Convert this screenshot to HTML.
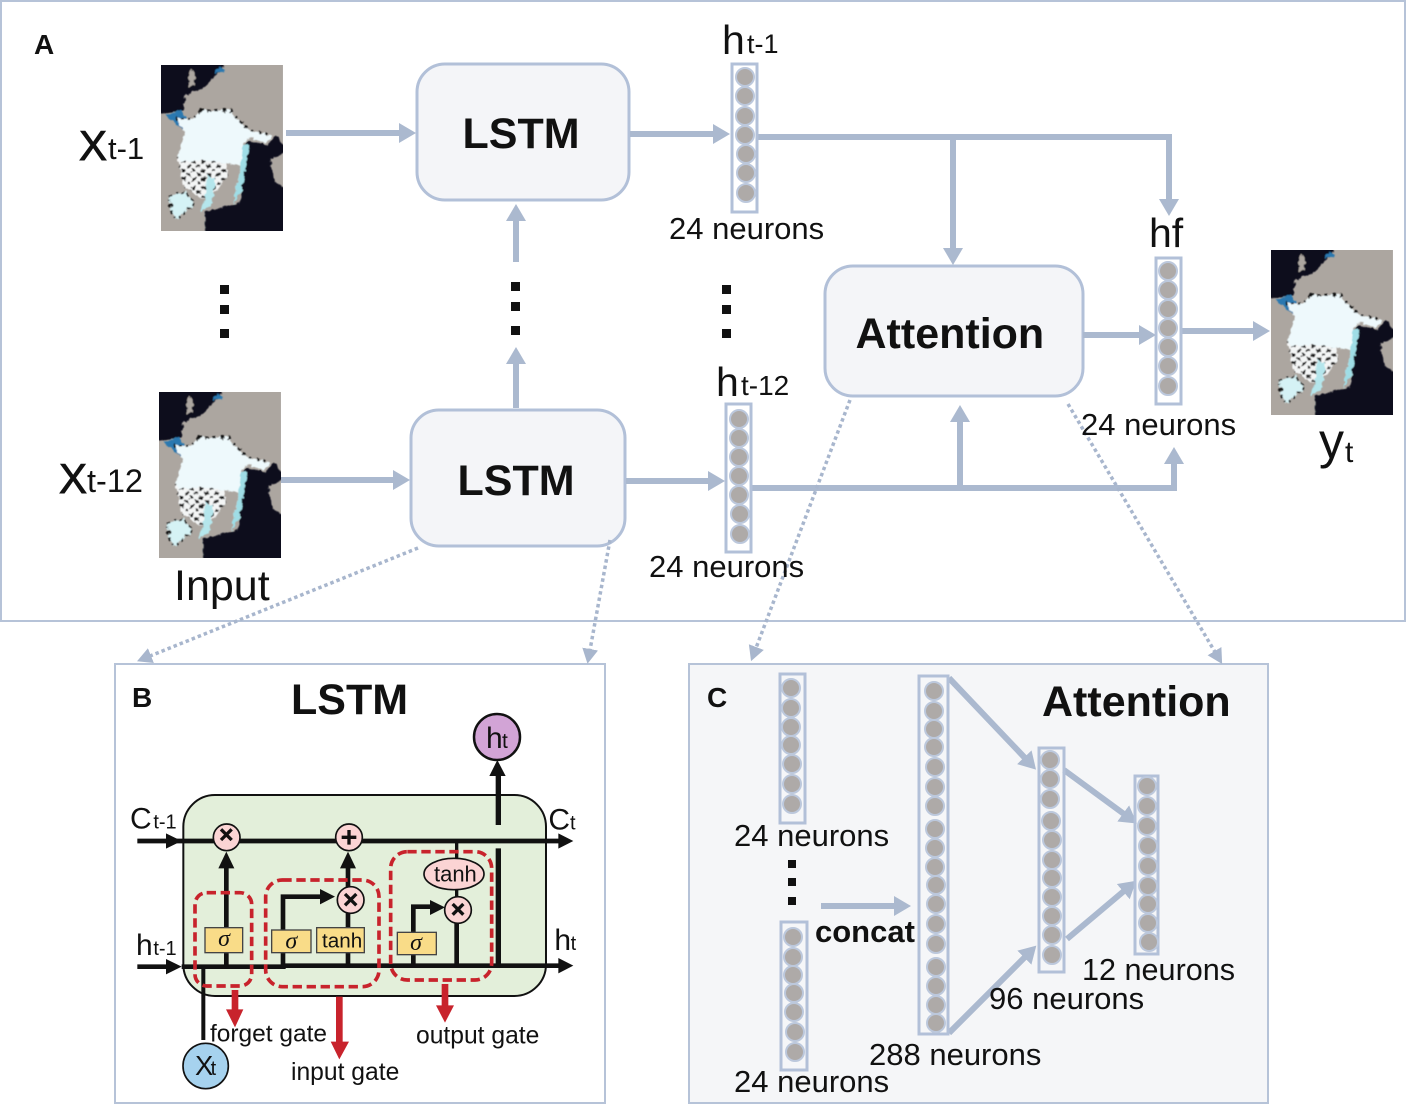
<!DOCTYPE html>
<html><head><meta charset="utf-8"><style>
html,body{margin:0;padding:0;background:#fff}
svg{display:block}
text{font-family:"Liberation Sans",sans-serif;fill:#111}
</style></head><body>
<svg width="1406" height="1105" viewBox="0 0 1406 1105" xmlns="http://www.w3.org/2000/svg">
<defs>
<marker id="a" markerUnits="userSpaceOnUse" markerWidth="20" markerHeight="22" refX="1" refY="10" orient="auto"><path d="M0,0L17,10L0,20z" fill="#abb9cf"/></marker>
<marker id="d" markerUnits="userSpaceOnUse" markerWidth="20" markerHeight="20" refX="1" refY="8" orient="auto"><path d="M0,0L15,8L0,16z" fill="#a8b6cd"/></marker>
<filter id="bl" x="-5%" y="-5%" width="110%" height="110%">
<feTurbulence type="fractalNoise" baseFrequency="0.07" numOctaves="2" seed="4" result="n"/>
<feDisplacementMap in="SourceGraphic" in2="n" scale="16" xChannelSelector="R" yChannelSelector="G"/>
<feGaussianBlur stdDeviation="1.8"/>
</filter>
<pattern id="sp" width="30" height="26" patternUnits="userSpaceOnUse"><rect width="30" height="26" fill="#f4f6f6"/><rect x="1" y="2" width="13" height="8" fill="#111"/><rect x="17" y="14" width="11" height="9" fill="#222"/></pattern>
<clipPath id="mc"><rect width="364" height="500"/></clipPath>
<g id="map" clip-path="url(#mc)">
<rect width="364" height="500" fill="#aca6a0"/>
<g filter="url(#bl)">
<path d="M-20,-20L190,-20L185,12L122,72L72,92L67,137L-20,152z" fill="#0c0d1e"/>
<path d="M90,10L102,30L100,60L85,65L80,40z" fill="#aca6a0"/>
<path d="M132,442L207,422L237,412L252,292L257,232L297,237L317,242L342,212L380,262L327,282L337,352L380,372L380,520L132,520z" fill="#0c0d1e"/>
<path d="M15,152L62,135L85,185L60,190z" fill="#2a78b0"/>
<path d="M172,4L190,14L160,30z" fill="#2a78b0"/>
<path d="M50,280L190,280L200,330L170,375L125,405L70,370z" fill="url(#sp)"/>
<path d="M25,395L75,382L100,420L45,465L30,440z" fill="#d5f2f5"/>
<path d="M137,332L162,342L152,422L117,442L132,402z" fill="#b5e6ec"/>
<path d="M117,137L207,137L237,172L267,197L332,212L312,237L267,217L247,237L252,292L237,372L217,417L237,302L187,297L132,287L57,292L52,272L72,202L42,162L97,162z" fill="#eef9fc"/>
<path d="M247,237L262,240L255,300L240,380L217,417L237,302z" fill="#9fdde6"/>
<path d="M117,137L207,137L237,172L267,197L332,212" fill="none" stroke="#111" stroke-width="8" stroke-dasharray="9 13"/>
<path d="M42,162L97,162L117,137" fill="none" stroke="#111" stroke-width="7" stroke-dasharray="8 12"/>
<path d="M25,395L75,382L100,420L45,465L30,440z" fill="none" stroke="#111" stroke-width="6" stroke-dasharray="7 12"/>
</g>
</g>
</defs>

<rect x="1" y="1" width="1404" height="620" fill="#fff" stroke="#b6c3d8" stroke-width="2"/>
<rect x="115" y="664" width="490" height="439" fill="#fff" stroke="#b6c3d8" stroke-width="2"/>
<rect x="689" y="664" width="579" height="439" fill="#f5f6f8" stroke="#b6c3d8" stroke-width="2"/>

<!-- maps -->
<use href="#map" transform="translate(161,65) scale(.335,.332)"/>
<use href="#map" transform="translate(159,392) scale(.335,.332)"/>
<use href="#map" transform="translate(1271,250) scale(.335,.33)"/>

<!-- main boxes -->
<g fill="#f4f5f8" stroke="#b2c0d8" stroke-width="3">
<rect x="417" y="64" width="212" height="136" rx="28"/>
<rect x="411" y="410" width="214" height="136" rx="28"/>
<rect x="825" y="266" width="258" height="130" rx="28"/>
</g>
<g font-weight="bold" font-size="43">
<text x="462.5" y="148">LSTM</text>
<text x="457.5" y="495">LSTM</text>
<text x="855.5" y="348">Attention</text>
<text x="291" y="714">LSTM</text>
<text x="1042" y="716">Attention</text>
</g>
<g font-weight="bold" font-size="28">
<text x="34" y="54">A</text>
<text x="132" y="707">B</text>
<text x="707" y="707">C</text>
</g>

<!-- connectors -->
<g fill="none" stroke="#abb9cf" stroke-width="6">
<path d="M286,133H400" marker-end="url(#a)"/>
<path d="M630,134H714" marker-end="url(#a)"/>
<path d="M757,137H1169V200" marker-end="url(#a)"/>
<path d="M953,137V249" marker-end="url(#a)"/>
<path d="M516,408V363" marker-end="url(#a)"/>
<path d="M516,262V220" marker-end="url(#a)"/>
<path d="M281,480H394" marker-end="url(#a)"/>
<path d="M626,481H709" marker-end="url(#a)"/>
<path d="M752,488H1174V463" marker-end="url(#a)"/>
<path d="M960,488V421" marker-end="url(#a)"/>
<path d="M1083,335H1140" marker-end="url(#a)"/>
<path d="M1182,331H1254" marker-end="url(#a)"/>
<path d="M821,906H895" marker-end="url(#a)"/>
<path d="M949,678L1025,758" marker-end="url(#a)"/>
<path d="M949,1033L1025,957" marker-end="url(#a)"/>
<path d="M1064,770L1124,814" marker-end="url(#a)"/>
<path d="M1067,939L1124,891" marker-end="url(#a)"/>
</g>
<g fill="none" stroke="#a8b6cd" stroke-width="3.5" stroke-dasharray="3.5 3">
<path d="M418,548L150,656" marker-end="url(#d)"/>
<path d="M610,540L590,650" marker-end="url(#d)"/>
<path d="M850,400L756,648" marker-end="url(#d)"/>
<path d="M1068,404L1215,652" marker-end="url(#d)"/>
</g>

<!-- dots -->
<g fill="#111">
<rect x="220" y="285" width="9" height="9"/><rect x="220" y="305" width="9" height="9"/><rect x="220" y="329" width="9" height="9"/>
<rect x="511" y="282" width="9" height="9"/><rect x="511" y="302" width="9" height="9"/><rect x="511" y="326" width="9" height="9"/>
<rect x="722" y="285" width="9" height="9"/><rect x="722" y="305" width="9" height="9"/><rect x="722" y="329" width="9" height="9"/>
<rect x="788" y="860" width="8" height="8"/><rect x="788" y="878" width="8" height="8"/><rect x="788" y="897" width="8" height="8"/>
</g>

<!-- neuron columns -->
<g fill="none" stroke="#b2c0d8" stroke-width="3">
<rect x="732" y="64" width="25" height="148"/>
<rect x="726" y="404" width="25" height="148"/>
<rect x="1156" y="258" width="25" height="146"/>
<rect x="780" y="674" width="25" height="149"/>
<rect x="781" y="922" width="26" height="148"/>
<rect x="919" y="676" width="29" height="358"/>
<rect x="1039" y="748" width="25" height="224"/>
<rect x="1135" y="776" width="23" height="178"/>
</g>
<g fill="#aeaaa8" stroke="#bcc8dc" stroke-width="2">
<circle cx="745" cy="77" r="9"/><circle cx="745" cy="96" r="9"/><circle cx="745" cy="116" r="9"/><circle cx="745" cy="135" r="9"/><circle cx="746" cy="154" r="9"/><circle cx="746" cy="173" r="9"/><circle cx="746" cy="193" r="9"/>
<circle cx="739" cy="419" r="9"/><circle cx="739" cy="438" r="9"/><circle cx="739" cy="457" r="9"/><circle cx="739" cy="476" r="9"/><circle cx="739" cy="495" r="9"/><circle cx="740" cy="514" r="9"/><circle cx="740" cy="534" r="9"/>
<circle cx="1168" cy="271" r="9"/><circle cx="1168" cy="290" r="9"/><circle cx="1168" cy="309" r="9"/><circle cx="1168" cy="328" r="9"/><circle cx="1168" cy="347" r="9"/><circle cx="1168" cy="366" r="9"/><circle cx="1168" cy="386" r="9"/>
<circle cx="791" cy="688" r="9"/><circle cx="791" cy="708" r="9"/><circle cx="791" cy="727" r="9"/><circle cx="791" cy="745" r="9"/><circle cx="792" cy="764" r="9"/><circle cx="792" cy="784" r="9"/><circle cx="792" cy="804" r="9"/>
<circle cx="793" cy="937" r="9"/><circle cx="793" cy="957" r="9"/><circle cx="793" cy="975" r="9"/><circle cx="794" cy="993" r="9"/><circle cx="794" cy="1012" r="9"/><circle cx="795" cy="1032" r="9"/><circle cx="795" cy="1052" r="9"/>
<circle cx="934" cy="691" r="9"/><circle cx="934" cy="711" r="9"/><circle cx="934" cy="729" r="9"/><circle cx="934" cy="747" r="9"/><circle cx="935" cy="767" r="9"/><circle cx="935" cy="787" r="9"/><circle cx="935" cy="806" r="9"/><circle cx="935" cy="829" r="9"/><circle cx="935" cy="848" r="9"/><circle cx="935" cy="867" r="9"/><circle cx="936" cy="885" r="9"/><circle cx="936" cy="904" r="9"/><circle cx="936" cy="924" r="9"/><circle cx="936" cy="944" r="9"/><circle cx="936" cy="967" r="9"/><circle cx="936" cy="986" r="9"/><circle cx="936" cy="1005" r="9"/><circle cx="936" cy="1023" r="9"/>
<circle cx="1050" cy="760" r="9"/><circle cx="1050" cy="779" r="9"/><circle cx="1050" cy="799" r="9"/><circle cx="1051" cy="821" r="9"/><circle cx="1052" cy="840" r="9"/><circle cx="1052" cy="860" r="9"/><circle cx="1052" cy="878" r="9"/><circle cx="1052" cy="897" r="9"/><circle cx="1052" cy="916" r="9"/><circle cx="1052" cy="935" r="9"/><circle cx="1052" cy="955" r="9"/>
<circle cx="1147" cy="786" r="9"/><circle cx="1147" cy="806" r="9"/><circle cx="1147" cy="826" r="9"/><circle cx="1148" cy="846" r="9"/><circle cx="1148" cy="866" r="9"/><circle cx="1148" cy="886" r="9"/><circle cx="1148" cy="904" r="9"/><circle cx="1148" cy="923" r="9"/><circle cx="1149" cy="942" r="9"/>
</g>

<!-- labels main -->
<g font-size="31">
<text x="669" y="239">24 neurons</text>
<text x="649" y="577">24 neurons</text>
<text x="1081" y="435">24 neurons</text>
<text x="734" y="846">24 neurons</text>
<text x="734" y="1092">24 neurons</text>
<text x="869" y="1065">288 neurons</text>
<text x="989" y="1009">96 neurons</text>
<text x="1082" y="980" font-size="30.6">12 neurons</text>
</g>
<text x="815" y="942" font-size="31" font-weight="bold">concat</text>
<text x="174" y="600" font-size="43">Input</text>
<text x="79" y="160" font-size="42" stroke="#111" stroke-width=".9">X</text><text x="108" y="159" font-size="31">t-1</text>
<text x="59" y="493" font-size="42" stroke="#111" stroke-width=".9">X</text><text x="87" y="492" font-size="32.5">t-12</text>
<text x="722" y="54" font-size="41">h</text><text x="747" y="53" font-size="27">t-1</text>
<text x="716" y="396" font-size="41">h</text><text x="741" y="395" font-size="28">t-12</text>
<text x="1149" y="247" font-size="41">hf</text>
<text x="1319" y="458" font-size="50">y</text><text x="1345" y="462" font-size="30">t</text>

<!-- panel B -->
<circle cx="497" cy="737" r="23" fill="#d2a4d6" stroke="#111" stroke-width="2.5"/>
<text x="486" y="748" font-size="30">h</text><text x="502" y="748" font-size="21">t</text>
<g transform="translate(120,770) scale(.33333)">
<rect x="190" y="75" width="1088" height="603" rx="95" fill="#e3efda" stroke="#111" stroke-width="6"/>
<g fill="none" stroke="#111" stroke-width="14">
<path d="M52,213H1325"/>
<path d="M52,590H140M185,590H490V587H1320"/>
<path d="M319,590V290"/>
<path d="M684,590V290"/>
<path d="M489,590V380H610"/>
<path d="M880,590V410H940"/>
<path d="M1010,590V450"/>
<path d="M1010,213V270M1010,350V385" stroke-width="10"/>
<path d="M1135,590V235M1135,165V0" stroke-width="16"/>
<path d="M250,590V810" stroke-width="12"/>
</g>
<g fill="#111">
<path d="M138,190L185,213L138,236z"/><path d="M138,567L185,590L138,613z"/>
<path d="M1315,190L1360,213L1315,236z"/><path d="M1315,564L1360,587L1315,610z"/>
<path d="M295,295L319,245L343,295z"/><path d="M660,295L684,245L708,295z"/>
<path d="M600,357L645,380L600,403z"/><path d="M930,390L975,412L930,435z"/>
<path d="M1108,18L1132,-30L1157,18z"/>
</g>
<g fill="#fbd4d4" stroke="#111" stroke-width="5">
<circle cx="320" cy="202" r="40"/><circle cx="687" cy="202" r="40"/><circle cx="692" cy="390" r="40"/><circle cx="1014" cy="420" r="40"/>
<ellipse cx="1002" cy="312" rx="90" ry="47"/>
</g>
<g stroke="#111" stroke-width="10" fill="none">
<path d="M303,178L335,210M335,178L303,210M687,180V224M665,202H709M675,372L709,406M709,372L675,406M998,402L1030,434M1030,402L998,434"/>
</g>
<g fill="#f9dc88" stroke="#444" stroke-width="4">
<rect x="255" y="473" width="113" height="75"/><rect x="455" y="480" width="118" height="68"/><rect x="590" y="473" width="143" height="75"/><rect x="832" y="487" width="117" height="67"/>
</g>
<g font-size="72" style="font-family:'Liberation Serif',serif;font-style:italic" text-anchor="middle">
<text x="312" y="528" style="font-family:'Liberation Serif',serif">σ</text><text x="514" y="535" style="font-family:'Liberation Serif',serif">σ</text><text x="888" y="540" style="font-family:'Liberation Serif',serif">σ</text>
</g>
<text x="606" y="533" font-size="62">tanh</text>
<text x="942" y="335" font-size="66">tanh</text>
<g fill="none" stroke="#c8232c" stroke-width="11" stroke-dasharray="28 14">
<rect x="225" y="368" width="170" height="280" rx="35"/>
<rect x="437" y="330" width="340" height="320" rx="50"/>
<rect x="812" y="245" width="303" height="385" rx="50"/>
</g>
<g fill="#c8232c">
<rect x="335" y="660" width="20" height="60"/><path d="M318,718L345,772L370,718z"/>
<rect x="648" y="680" width="20" height="137"/><path d="M632,815L658,868L687,815z"/>
<rect x="965" y="642" width="20" height="66"/><path d="M948,706L975,758L1002,706z"/>
</g>
<circle cx="257" cy="888" r="68" fill="#a6d2ee" stroke="#111" stroke-width="5"/>
<text x="225" y="915" font-size="82">X</text><text x="272" y="915" font-size="60">t</text>
<text x="30" y="175" font-size="90">C</text><text x="100" y="175" font-size="60">t-1</text>
<text x="1285" y="178" font-size="90">C</text><text x="1350" y="178" font-size="60">t</text>
<text x="48" y="555" font-size="90">h</text><text x="100" y="555" font-size="60">t-1</text>
<text x="1303" y="540" font-size="90">h</text><text x="1352" y="540" font-size="60">t</text>
<text x="270" y="815" font-size="73.5">forget gate</text>
<text x="513" y="930" font-size="74">input gate</text>
<text x="888" y="820" font-size="74">output gate</text>
</g>
</svg>
</body></html>
